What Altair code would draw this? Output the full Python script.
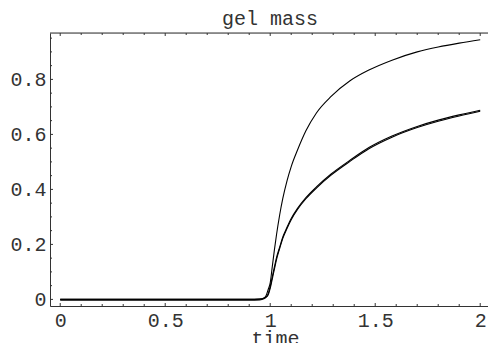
import altair as alt
import pandas as pd

# ---- data ----
t = [0, 0.5, 0.9, 0.95, 0.97, 0.98, 0.99, 1.0, 1.01, 1.02, 1.03, 1.045, 1.06,
     1.08, 1.1, 1.13, 1.17, 1.22, 1.29, 1.38, 1.47, 1.58, 1.7, 1.8, 1.9, 2.0]
upper = [0, 0, 0, 0.001, 0.005, 0.013, 0.035, 0.06, 0.12, 0.18, 0.235, 0.307, 0.367,
         0.431, 0.483, 0.543, 0.613, 0.678, 0.738, 0.795, 0.834, 0.87, 0.9, 0.918, 0.932, 0.944]
lower1 = [0, 0, 0, 0.001, 0.004, 0.008, 0.016, 0.04, 0.075, 0.11, 0.145, 0.185, 0.222,
          0.258, 0.29, 0.327, 0.366, 0.405, 0.452, 0.502, 0.548, 0.59, 0.625, 0.648, 0.667, 0.684]
lower2 = [-0.003, -0.003, -0.003, -0.002, 0.002, 0.008, 0.02, 0.047, 0.083, 0.118, 0.152, 0.19, 0.227,
          0.262, 0.294, 0.331, 0.37, 0.409, 0.456, 0.506, 0.552, 0.594, 0.629, 0.652, 0.671, 0.688]

x_major = [0, 0.5, 1, 1.5, 2]
x_minor = [0.1, 0.2, 0.3, 0.4, 0.6, 0.7, 0.8, 0.9, 1.1, 1.2, 1.3, 1.4, 1.6, 1.7, 1.8, 1.9]
y_major = [0, 0.2, 0.4, 0.6, 0.8]
y_minor = [0.05, 0.1, 0.15, 0.25, 0.3, 0.35, 0.45, 0.5, 0.55, 0.65, 0.7, 0.75, 0.85, 0.9, 0.95]

W, H = 438, 273
FONT = "Liberation Mono"
INK = "#333333"
AX = "#333333"

xs = alt.Scale(domain=[-0.0486, 2.0371], nice=False, zero=False)
ys = alt.Scale(domain=[-0.024, 0.9687], nice=False, zero=False)

curves = pd.DataFrame({
    "t": t * 3,
    "v": upper + lower1 + lower2,
    "s": ["upper"] * len(t) + ["lower1"] * len(t) + ["lower2"] * len(t),
})

xaxis = alt.Axis(values=x_major, format="~g", ticks=False, grid=False, domain=True,
                 domainColor=AX, domainWidth=1, labelFont=FONT, labelFontSize=20,
                 labelColor=INK, labelPadding=4, title="time", titleFont=FONT,
                 titleFontSize=20, titleFontWeight="normal", titleColor=INK,
                 titleX=225, titleY=38.5, titleBaseline="alphabetic")
yaxis = alt.Axis(values=y_major, format="~g", ticks=False, grid=False, domain=True,
                 domainColor=AX, domainWidth=1, labelFont=FONT, labelFontSize=20,
                 labelColor=INK, labelPadding=4, title=None)

# ticks drawn inward (Mathematica frame style), positioned through the scales
xt = pd.DataFrame({"p": x_major + x_minor, "len": [3] * len(x_major) + [2] * len(x_minor)})
yt = pd.DataFrame({"p": y_major + y_minor, "len": [3] * len(y_major) + [2] * len(y_minor)})

def xticks(df, y0, y1):
    return alt.Chart(df).mark_rule(color=AX, strokeWidth=1).encode(
        x=alt.X("p:Q", scale=xs, axis=xaxis), y=alt.value(y0), y2=alt.value(y1))

def yticks(df, x1):
    return alt.Chart(df).mark_rule(color=AX, strokeWidth=1).encode(
        y=alt.Y("p:Q", scale=ys, axis=yaxis), x=alt.value(0), x2=alt.value(x1))

lines = alt.Chart(curves).mark_line(color="black", strokeWidth=1.1, interpolate="monotone").encode(
    x=alt.X("t:Q", scale=xs, axis=xaxis),
    y=alt.Y("v:Q", scale=ys, axis=yaxis),
    detail="s:N",
)

bottom_major = xticks(xt[xt.len == 3], H, H - 3)
bottom_minor = xticks(xt[xt.len == 2], H, H - 2)
top_major = xticks(xt[xt.len == 3], 0, 3)
top_minor = xticks(xt[xt.len == 2], 0, 2)
left_major = yticks(yt[yt.len == 3], 3)
left_minor = yticks(yt[yt.len == 2], 2)

top_line = alt.Chart(pd.DataFrame({"a": [0]})).mark_rule(color=AX, strokeWidth=1).encode(
    x=alt.value(0), x2=alt.value(W), y=alt.value(0))

chart = alt.layer(
    lines, bottom_major, bottom_minor, top_major, top_minor, left_major, left_minor, top_line
).properties(
    width=W, height=H,
    title=alt.TitleParams("gel mass", font=FONT, fontSize=20, fontWeight="normal",
                          color=INK, anchor="middle", baseline="alphabetic", offset=9,
                          dx=1, dy=21),
    padding={"left": 50, "top": 33, "right": 0, "bottom": 37},
    autosize=alt.AutoSizeParams(type="none"),
).configure_view(strokeWidth=0).configure(background="white")

chart.save("out.html", embed_options={"renderer": "svg", "actions": False})
